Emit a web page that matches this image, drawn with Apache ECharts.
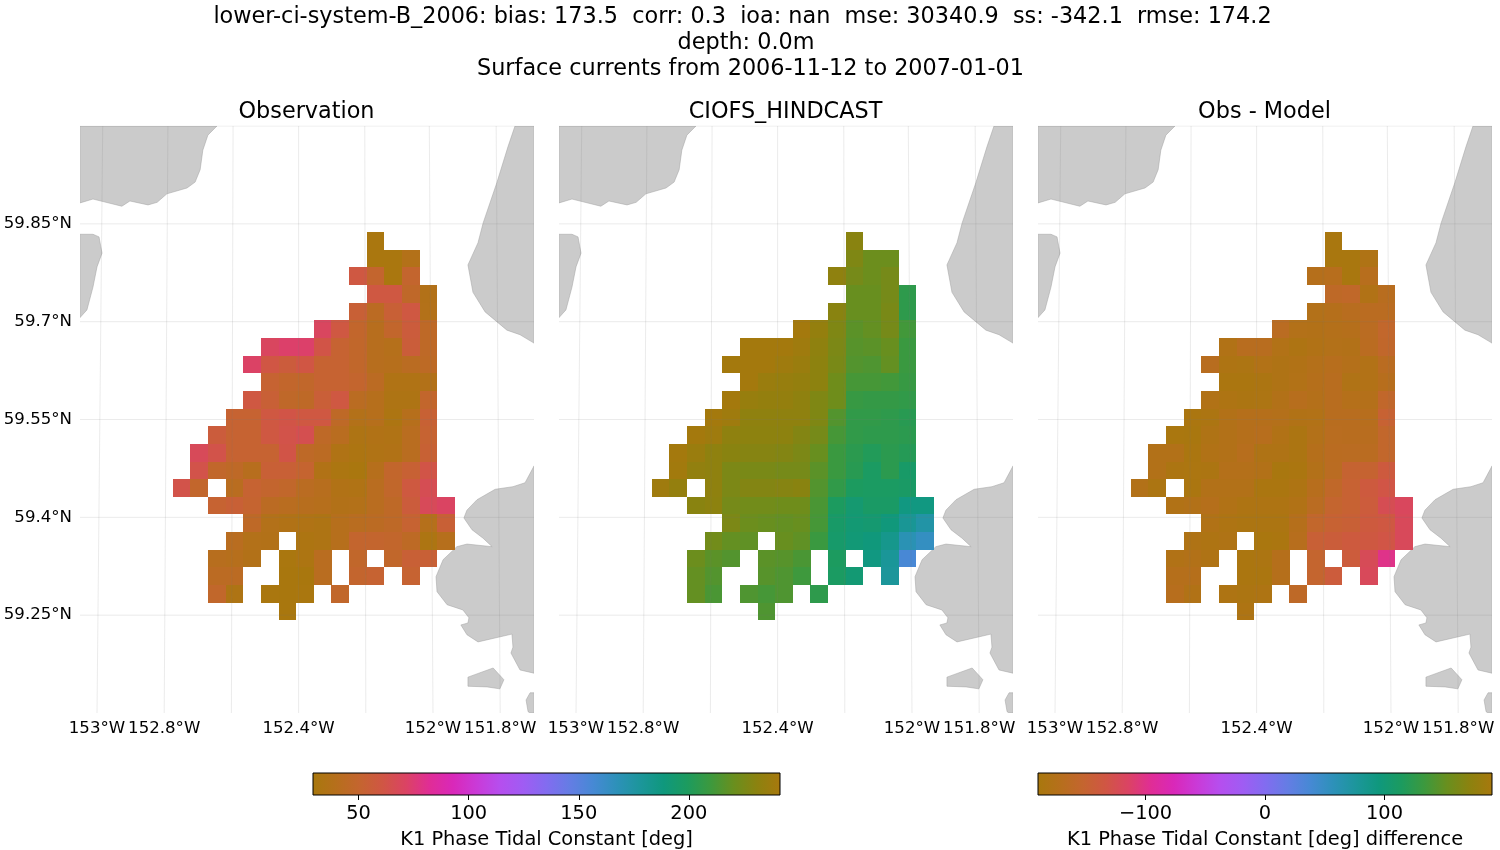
<!DOCTYPE html>
<html>
<head>
<meta charset="utf-8">
<title>K1 phase</title>
<script src="https://cdn.jsdelivr.net/npm/echarts@6/dist/echarts.min.js"></script>
<style>
    html, body { margin: 0; padding: 0; background: #fff; }
    #container { width: 1500px; height: 850px; }
</style>
</head>
<body>
<div id="container"></div>
<script>
const _ = null;

// cell centres of the mesh
const lons = [-152.7480, -152.6955, -152.6431, -152.5906, -152.5382, -152.4857, -152.4332, -152.3808,
    -152.3283, -152.2759, -152.2234, -152.1710, -152.1185, -152.0660, -152.0136, -151.9611];
const lats = [59.8237, 59.7967, 59.7696, 59.7426, 59.7155, 59.6885, 59.6614, 59.6344, 59.6073, 59.5803, 59.5532,
    59.5262, 59.4991, 59.4721, 59.4450, 59.4180, 59.3909, 59.3639, 59.3368, 59.3098, 59.2827, 59.2557];

const obsPhase = [
    [_,_,_,_,_,_,_,_,_,_,_,31,_,_,_,_],
    [_,_,_,_,_,_,_,_,_,_,_,31,31,38,_,_],
    [_,_,_,_,_,_,_,_,_,_,60,50,31,50,_,_],
    [_,_,_,_,_,_,_,_,_,_,_,60,60,47,37,_],
    [_,_,_,_,_,_,_,_,_,_,54,44,54,60,38,_],
    [_,_,_,_,_,_,_,_,70,60,49,41,49,57,46,_],
    [_,_,_,_,_,70,73,73,62,52,48,41,39,56,46,_],
    [_,_,_,_,72,61,57,61,52,52,48,41,40,43,45,_],
    [_,_,_,_,_,52,49,48,52,52,50,44,35,35,37,_],
    [_,_,_,_,60,54,47,46,55,60,43,40,34,34,49,_],
    [_,_,_,52,52,60,62,60,60,46,38,40,33,40,53,_],
    [_,_,57,52,52,60,63,65,46,42,34,36,35,42,52,_],
    [_,68,63,52,52,52,62,46,44,35,33,35,36,42,53,_],
    [_,63,48,46,41,54,54,51,36,32,31,40,49,53,62,_],
    [63,49,_,42,52,50,48,43,41,36,35,42,48,59,66,_],
    [_,_,52,54,51,44,42,41,40,37,38,42,46,57,68,71],
    [_,_,_,_,46,38,36,35,34,40,42,44,46,52,39,54],
    [_,_,_,42,38,37,_,33,34,40,50,50,49,45,33,40],
    [_,_,41,40,37,_,31,33,42,_,48,_,48,54,54,_],
    [_,_,44,44,_,_,30,30,42,_,50,52,_,52,_,_],
    [_,_,48,34,_,31,30,31,_,48,_,_,_,_,_,_],
    [_,_,_,_,_,_,30,_,_,_,_,_,_,_,_,_]
];

const modelPhase = [
    [_,_,_,_,_,_,_,_,_,_,_,230,_,_,_,_],
    [_,_,_,_,_,_,_,_,_,_,_,227,221,221,_,_],
    [_,_,_,_,_,_,_,_,_,_,232,224,221,224,_,_],
    [_,_,_,_,_,_,_,_,_,_,_,220,220,224,205,_],
    [_,_,_,_,_,_,_,_,_,_,230,220,220,225,205,_],
    [_,_,_,_,_,_,_,_,240,234,227,217,219,224,211,_],
    [_,_,_,_,_,240,240,240,238,232,226,216,217,220,209,_],
    [_,_,_,_,240,240,240,238,236,231,225,215,214,219,209,_],
    [_,_,_,_,_,240,236,235,234,231,222,212,212,211,208,_],
    [_,_,_,_,240,235,234,234,232,227,222,208,207,207,206,_],
    [_,_,_,240,238,232,232,232,232,227,215,206,206,205,203,_],
    [_,_,240,238,232,231,231,231,228,224,212,206,205,205,204,_],
    [_,240,236,232,230,229,229,228,226,220,209,204,201,204,202,_],
    [_,239,233,232,226,225,225,224,224,217,209,203,198,204,196,_],
    [238,234,_,232,226,228,228,229,230,215,206,199,198,198,197,_],
    [_,_,230,231,224,223,223,222,222,213,199,193,197,197,187,187],
    [_,_,_,_,226,221,220,219,220,212,196,192,193,189,180,174],
    [_,_,_,223,219,218,_,220,218,209,195,191,189,183,169,164],
    [_,_,221,217,215,_,217,216,213,_,199,_,187,179,156,_],
    [_,_,219,215,_,_,216,214,210,_,198,192,_,178,_,_],
    [_,_,219,213,_,214,212,214,_,205,_,_,_,_,_,_],
    [_,_,_,_,_,_,214,_,_,_,_,_,_,_,_,_]
];

const diffPhase = [
    [_,_,_,_,_,_,_,_,_,_,_,-188,_,_,_,_],
    [_,_,_,_,_,_,_,_,_,_,_,-188,-188,-180,_,_],
    [_,_,_,_,_,_,_,_,_,_,-172,-170,-188,-170,_,_],
    [_,_,_,_,_,_,_,_,_,_,_,-160,-158,-178,-168,_],
    [_,_,_,_,_,_,_,_,_,_,-175,-172,-168,-166,-166,_],
    [_,_,_,_,_,_,_,_,-165,-175,-176,-174,-172,-165,-155,_],
    [_,_,_,_,_,-178,-168,-168,-177,-182,-178,-175,-176,-166,-156,_],
    [_,_,_,_,-168,-182,-183,-177,-180,-178,-174,-170,-174,-177,-166,_],
    [_,_,_,_,_,-186,-186,-184,-180,-177,-172,-168,-179,-177,-170,_],
    [_,_,_,_,-178,-182,-184,-183,-176,-170,-174,-168,-173,-174,-156,_],
    [_,_,_,-186,-184,-176,-172,-172,-174,-178,-177,-168,-168,-170,-148,_],
    [_,_,-187,-188,-180,-176,-172,-170,-178,-184,-175,-167,-168,-168,-155,_],
    [_,-176,-176,-186,-178,-176,-170,-180,-180,-184,-172,-166,-165,-166,-155,_],
    [_,-176,-184,-185,-184,-174,-174,-176,-188,-186,-175,-165,-150,-150,-138,_],
    [-176,-184,_,-186,-176,-176,-176,-186,-186,-182,-170,-158,-148,-138,-132,_],
    [_,_,-178,-176,-172,-178,-182,-182,-182,-178,-165,-152,-148,-140,-124,-118],
    [_,_,_,_,-178,-182,-184,-184,-184,-172,-155,-148,-146,-138,-135,-120],
    [_,_,_,-180,-182,-180,_,-187,-186,-170,-146,-142,-138,-136,-132,-120],
    [_,_,-178,-176,-180,_,-186,-184,-172,_,-152,_,-140,-122,-100,_],
    [_,_,-172,-172,_,_,-186,-186,-172,_,-152,-140,_,-120,_,_],
    [_,_,-170,-178,_,-182,-184,-182,_,-160,_,_,_,_,_,_],
    [_,_,_,_,_,_,-182,_,_,_,_,_,_,_,_,_]
];

// coastline as lon / lat
const landNorthWest = [[-153.051, 60], [-152.643, 60], [-152.670, 59.986], [-152.685, 59.963], [-152.693, 59.933],
    [-152.708, 59.914], [-152.732, 59.905], [-152.792, 59.896], [-152.821, 59.883], [-152.848, 59.879],
    [-152.902, 59.885], [-152.926, 59.877], [-153.012, 59.888], [-153.051, 59.882]];
const landWest = [[-153.051, 59.834], [-153.012, 59.834], [-152.994, 59.830], [-152.985, 59.805], [-153.000, 59.784],
    [-153.012, 59.753], [-153.030, 59.718], [-153.051, 59.706]];
const landNorthEast = [[-151.756, 60], [-151.699, 60], [-151.699, 59.667], [-151.741, 59.680], [-151.780, 59.687],
    [-151.845, 59.715], [-151.881, 59.745], [-151.896, 59.787], [-151.866, 59.821], [-151.851, 59.851],
    [-151.810, 59.913], [-151.777, 59.968]];
const landSouthEast = [[-151.699, 59.479], [-151.726, 59.453], [-151.762, 59.447], [-151.815, 59.443], [-151.869, 59.427],
    [-151.899, 59.411], [-151.908, 59.399], [-151.884, 59.381], [-151.851, 59.368], [-151.824, 59.355],
    [-151.899, 59.359], [-151.929, 59.355], [-151.970, 59.335], [-151.991, 59.309], [-151.988, 59.286],
    [-151.958, 59.266], [-151.911, 59.258], [-151.893, 59.246], [-151.896, 59.238], [-151.917, 59.235],
    [-151.899, 59.220], [-151.866, 59.209], [-151.765, 59.221], [-151.762, 59.201], [-151.768, 59.192],
    [-151.741, 59.166], [-151.699, 59.161]];
const landIsland = [[-151.896, 59.155], [-151.821, 59.169], [-151.789, 59.151], [-151.801, 59.137], [-151.839, 59.140], [-151.896, 59.141]];
const landCorner = [[-151.699, 59.131], [-151.711, 59.131], [-151.723, 59.120], [-151.717, 59.102], [-151.711, 59.100], [-151.699, 59.100]];
const landPolygons = [landNorthWest, landWest, landNorthEast, landSouthEast, landIsland, landCorner];

// graticule, the meridians lean a little from bottom to top
const meridiansBottom = [-153, -152.8, -152.6, -152.4, -152.2, -152, -151.8];
const meridiansTop = [-152.983, -152.789, -152.595, -152.4, -152.203, -152.011, -151.812];
const parallels = [60, 59.85, 59.7, 59.55, 59.4, 59.25];

const lonTicks = [-153, -152.8, -152.4, -152, -151.8];
const latTicks = [59.25, 59.4, 59.55, 59.7, 59.85];
const phaseTicks = [50, 100, 150, 200];
const diffTicks = [-100, 0, 100];

const phaseRange = [29.3, 241.4];
const diffRange = [-190, 190];
const lonRange = [-153.0506, -151.6994];
const latRange = [59.1, 60];

// cyclic colormap, evenly spaced
const phaseColors = ['rgb(168,120,13)', 'rgb(182,111,28)', 'rgb(196,101,47)', 'rgb(208,86,68)', 'rgb(219,67,100)',
    'rgb(224,45,150)', 'rgb(217,40,185)', 'rgb(202,58,215)', 'rgb(182,78,238)', 'rgb(160,92,243)', 'rgb(130,108,240)',
    'rgb(100,125,228)', 'rgb(70,137,212)', 'rgb(45,145,185)', 'rgb(28,150,155)', 'rgb(15,152,125)', 'rgb(28,155,95)',
    'rgb(60,153,62)', 'rgb(105,143,30)', 'rgb(140,130,15)', 'rgb(168,120,13)'];

const FONT = 'DejaVu Sans';
const panels = [
    { name: 'Observation', left: 80, rows: obsPhase },
    { name: 'CIOFS_HINDCAST', left: 559, rows: modelPhase },
    { name: 'Obs - Model', left: 1038, rows: diffPhase }
];
const halfLon = (lons[1] - lons[0]) / 2;
const halfLat = (lats[0] - lats[1]) / 2;

function cellData(rows) {
    var out = [];
    rows.forEach(function (row, r) {
        row.forEach(function (value, c) {
            if (value !== null) {
                out.push([lons[c], lats[r], value]);
            }
        });
    });
    return out;
}

function renderCell(params, api) {
    var p0 = api.coord([api.value(0) - halfLon, api.value(1) + halfLat]);
    var p1 = api.coord([api.value(0) + halfLon, api.value(1) - halfLat]);
    // whole pixels so neighbouring cells leave no seam
    var x0 = Math.round(p0[0]);
    var y0 = Math.round(p0[1]);
    return {
        type: 'rect',
        shape: { x: x0, y: y0, width: Math.round(p1[0]) - x0, height: Math.round(p1[1]) - y0 },
        style: { fill: api.visual('color') }
    };
}

function renderLand(params, api) {
    return {
        type: 'polygon',
        shape: { points: landPolygons[params.dataIndex].map(function (p) { return api.coord(p); }) },
        style: { fill: '#cbcbcb', stroke: '#a0a0a0', lineWidth: 0.5 }
    };
}

function renderColorbar(params, api) {
    var p0 = api.coord([api.value(0), 1]);
    var p1 = api.coord([api.value(1), 0]);
    var stops = phaseColors.map(function (color, i) {
        return { offset: i / (phaseColors.length - 1), color: color };
    });
    return {
        type: 'rect',
        shape: { x: p0[0], y: p0[1], width: p1[0] - p0[0], height: p1[1] - p0[1] },
        style: { fill: new echarts.graphic.LinearGradient(0, 0, 1, 0, stops), stroke: '#000', lineWidth: 1 }
    };
}

var grids = [];
var xAxes = [];
var yAxes = [];
var series = [];
var titles = [
    { text: 'lower-ci-system-B_2006: bias: 173.5  corr: 0.3  ioa: nan  mse: 30340.9  ss: -342.1  rmse: 174.2', left: 742.5, top: 6 },
    { text: 'depth: 0.0m', left: 746, top: 32 },
    { text: 'Surface currents from 2006-11-12 to 2007-01-01', left: 750.5, top: 58 }
].map(function (t) {
    return {
        text: t.text, left: t.left, top: t.top, textAlign: 'center', padding: 0,
        textStyle: { fontFamily: FONT, fontSize: 22.35, fontWeight: 'normal', color: '#000' }
    };
});
var phaseSeries = [];
var diffSeries = [];

panels.forEach(function (panel, i) {
    grids.push({ left: panel.left, top: 126, width: 454, height: 587 });
    xAxes.push({
        type: 'value', gridIndex: i, min: lonRange[0], max: lonRange[1],
        axisLine: { show: false }, axisTick: { show: false }, splitLine: { show: false },
        axisLabel: {
            customValues: lonTicks, margin: 7, fontFamily: FONT, fontSize: 16.6, color: '#000',
            formatter: function (v) { return Math.abs(v) + '°W'; }
        }
    });
    yAxes.push({
        type: 'value', gridIndex: i, min: latRange[0], max: latRange[1],
        axisLine: { show: false }, axisTick: { show: false }, splitLine: { show: false },
        axisLabel: {
            show: i === 0, customValues: latTicks, margin: 8, fontFamily: FONT, fontSize: 16.6, color: '#000',
            padding: [4, 0, 0, 0],
            formatter: function (v) { return v + '°N'; }
        }
    });
    titles.push({
        text: panel.name, left: panel.left + 226.5, top: 101, textAlign: 'center', padding: 0,
        textStyle: { fontFamily: FONT, fontSize: 22.35, fontWeight: 'normal', color: '#000' }
    });

    series.push({
        type: 'custom', xAxisIndex: i, yAxisIndex: i, clip: true, silent: true, z: 1,
        renderItem: renderLand,
        data: landPolygons.map(function (p, k) { return [k]; })
    });
    (i === 2 ? diffSeries : phaseSeries).push(series.length);
    series.push({
        type: 'custom', name: panel.name, xAxisIndex: i, yAxisIndex: i, clip: true, silent: true, z: 2,
        renderItem: renderCell,
        encode: { x: 0, y: 1 },
        data: cellData(panel.rows)
    });
    meridiansBottom.forEach(function (lon, k) {
        series.push({
            type: 'line', xAxisIndex: i, yAxisIndex: i, symbol: 'none', silent: true, z: 3,
            lineStyle: { color: 'rgba(120,120,120,0.15)', width: 1 },
            data: [[lon, latRange[0]], [meridiansTop[k], latRange[1]]]
        });
    });
    parallels.forEach(function (lat) {
        series.push({
            type: 'line', xAxisIndex: i, yAxisIndex: i, symbol: 'none', silent: true, z: 3,
            lineStyle: { color: 'rgba(120,120,120,0.15)', width: 1 },
            data: [[lonRange[0], lat], [lonRange[1], lat]]
        });
    });
});

// colorbars
const colorbars = [
    { left: 313, width: 467, range: phaseRange, ticks: phaseTicks, name: 'K1 Phase Tidal Constant [deg]' },
    { left: 1038, width: 454, range: diffRange, ticks: diffTicks, name: 'K1 Phase Tidal Constant [deg] difference' }
];
colorbars.forEach(function (bar) {
    var g = grids.length;
    grids.push({ left: bar.left, top: 773, width: bar.width, height: 24 });
    xAxes.push({
        type: 'value', gridIndex: g, min: bar.range[0], max: bar.range[1],
        axisLine: { show: false }, splitLine: { show: false },
        axisTick: { customValues: bar.ticks, length: 5, lineStyle: { color: '#000', width: 1 } },
        axisLabel: {
            customValues: bar.ticks, margin: 9, fontFamily: FONT, fontSize: 19.4, color: '#000',
            formatter: function (v) { return String(v).replace('-', '\u2212'); }
        },
        name: bar.name, nameLocation: 'middle', nameGap: 35,
        nameTextStyle: { fontFamily: FONT, fontSize: 19.4, color: '#000' }
    });
    yAxes.push({ type: 'value', gridIndex: g, min: 0, max: 1, show: false });
    series.push({
        type: 'custom', xAxisIndex: g, yAxisIndex: g, silent: true, clip: false,
        renderItem: renderColorbar,
        encode: { x: [0, 1] },
        data: [[bar.range[0], bar.range[1]]]
    });
});

var dom = document.getElementById('container');
var myChart = echarts.init(dom, null, { renderer: 'canvas' });
var option = {
    backgroundColor: '#fff',
    animation: false,
    title: titles,
    grid: grids,
    xAxis: xAxes,
    yAxis: yAxes,
    visualMap: [
        { type: 'continuous', show: false, min: phaseRange[0], max: phaseRange[1], dimension: 2, seriesIndex: phaseSeries, inRange: { color: phaseColors } },
        { type: 'continuous', show: false, min: diffRange[0], max: diffRange[1], dimension: 2, seriesIndex: diffSeries, inRange: { color: phaseColors } }
    ],
    series: series
};
myChart.setOption(option);
</script>
</body>
</html>
